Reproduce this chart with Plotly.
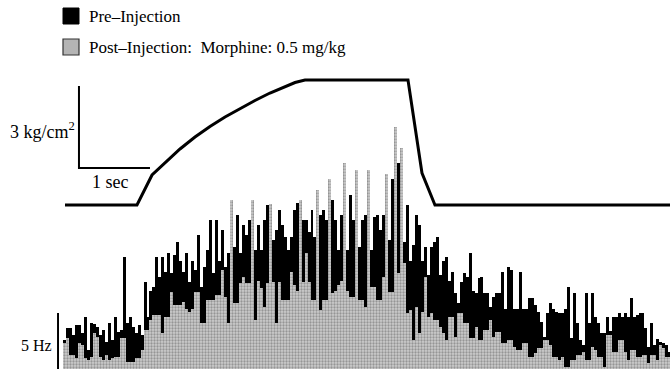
import plotly.graph_objects as go

# ---------------- data ----------------
BIN_S = 0.042  # histogram bin width in seconds

# Pre-injection firing rate per bin (Hz)
pre_hz = [
    2.6, 3.7, 3.7, 3.0, 3.9, 3.9, 3.2, 4.6, 1.7, 4.1,
    4.0, 3.75, 3.0, 3.5, 2.4, 4.1, 2.6, 4.6, 3.3, 3.5,
    10.0, 4.1, 4.6, 3.75, 3.2, 3.9, 3.0, 7.8, 4.6, 7.0,
    7.3, 10.0, 8.2, 10.0, 8.7, 10.4, 8.6, 10.2, 11.3, 9.6,
    8.7, 10.4, 7.8, 9.6, 8.8, 12.0, 7.3, 9.1, 10.6, 13.3,
    8.6, 13.3, 9.6, 12.4, 9.1, 10.4, 12.0, 10.9, 13.75, 10.4,
    12.9, 12.0, 13.3, 13.0, 10.6, 12.9, 10.6, 13.3, 14.6, 12.4,
    11.5, 12.4, 14.2, 12.9, 11.8, 10.6, 11.8, 14.2, 14.8, 12.2,
    13.3, 13.3, 12.2, 14.2, 11.8, 11.8, 13.75, 14.2, 13.3, 13.9,
    15.1, 13.3, 10.6, 13.75, 13.3, 10.6, 15.5, 13.3, 13.75, 10.9,
    13.3, 13.75, 14.2, 10.6, 13.6, 13.75, 12.4, 13.75, 16.2, 11.5,
    17.0, 18.4, 18.4, 17.8, 11.3, 14.6, 9.6, 11.1, 13.75, 12.9,
    9.6, 10.9, 8.4, 10.9, 11.3, 11.8, 8.4, 9.6, 10.0, 7.9,
    8.7, 6.8, 5.9, 7.8, 8.6, 8.2, 10.4, 7.0, 6.8, 8.1,
    8.2, 6.8, 6.8, 5.5, 6.4, 6.8, 6.8, 8.7, 5.4, 9.1,
    8.8, 5.4, 5.4, 8.7, 5.4, 5.4, 6.3, 6.3, 5.7, 5.1,
    4.2, 2.9, 5.0, 5.9, 5.4, 5.1, 5.0, 5.0, 5.4, 7.3,
    2.8, 6.8, 4.1, 2.6, 2.1, 6.8, 4.1, 6.8, 4.6, 4.1,
    3.2, 3.2, 4.6, 3.4, 4.6, 4.6, 5.0, 4.6, 5.0, 4.6,
    6.3, 4.6, 4.8, 5.0, 5.0, 3.7, 2.0, 4.1, 2.1, 2.7,
    2.4, 2.3, 2.1, 1.5,
]

# Post-injection (Morphine 0.5 mg/kg) firing rate per bin (Hz)
post_hz = [
    2.3, 2.8, 1.25, 1.25, 1.0, 2.3, 2.1, 1.0, 0.8, 1.1,
    3.2, 2.9, 1.1, 0.8, 1.25, 0.8, 1.0, 1.1, 1.1, 2.8,
    2.8, 0.6, 0.6, 0.6, 1.0, 1.0, 1.7, 3.5, 3.5, 4.4,
    4.8, 4.8, 4.8, 3.2, 4.6, 4.6, 6.9, 5.7, 5.7, 5.7,
    6.0, 5.4, 5.1, 5.4, 6.9, 6.9, 4.1, 4.1, 6.2, 6.2,
    6.2, 6.6, 6.6, 8.8, 6.4, 4.1, 15.1, 5.9, 5.9, 7.7,
    8.2, 7.7, 7.7, 15.1, 4.4, 7.9, 7.2, 5.5, 7.7, 14.7,
    7.8, 4.1, 7.8, 6.2, 6.2, 6.2, 8.7, 7.5, 7.0, 15.1,
    7.8, 10.4, 7.8, 6.2, 6.2, 16.0, 5.3, 6.2, 6.2, 17.0,
    6.8, 7.0, 7.5, 7.9, 18.4, 7.0, 6.4, 6.4, 17.8, 6.2,
    6.2, 5.5, 17.8, 7.3, 7.3, 6.2, 6.2, 8.2, 17.4, 6.9,
    6.9, 21.6, 8.6, 19.7, 9.5, 5.0, 5.3, 2.6, 5.5, 3.2,
    5.1, 8.2, 4.6, 5.0, 4.4, 4.4, 3.75, 3.2, 2.6, 4.6,
    4.6, 2.9, 5.0, 5.0, 4.1, 4.1, 2.8, 2.8, 3.75, 2.6,
    2.6, 3.5, 3.5, 4.4, 2.9, 3.3, 3.3, 2.3, 2.3, 2.6,
    2.6, 2.0, 1.7, 1.7, 2.3, 2.3, 1.1, 1.1, 1.4, 1.9,
    1.9, 2.6, 2.6, 2.1, 1.1, 1.1, 0.8, 1.1, 0.2, 0.2,
    0.8, 0.8, 1.25, 1.25, 1.5, 0.8, 0.8, 2.0, 1.7, 1.1,
    1.1, 0.2, 3.0, 3.0, 1.5, 1.5, 2.6, 2.6, 1.5, 0.8,
    1.7, 1.7, 1.1, 1.1, 1.25, 1.25, 0.5, 1.25, 1.25, 0.8,
    2.1, 1.9, 1.1, 1.1,
]

# Applied pressure stimulus (kg/cm^2) vs time (s)
pressure_t = [0.028, 1.042, 1.254, 1.437, 1.648, 1.859, 2.070, 2.282,
              2.493, 2.704, 2.915, 3.127, 3.268, 3.408, 4.859, 5.056,
              5.239, 8.55]
pressure_kg = [0.0, 0.0, 1.098, 1.555, 2.049, 2.488, 2.873, 3.220,
               3.531, 3.824, 4.098, 4.336, 4.482, 4.574, 4.574, 1.17,
               0.0, 0.0]

legend_labels = ["Pre\u2013Injection", "Post\u2013Injection:\u00a0 Morphine: 0.5 mg/kg"]

# ---------------- figure ----------------
W, H = 670, 370
bin_t = [BIN_S * (i + 0.5) for i in range(len(pre_hz))]

GRAY_BG = "#cccccc"
GRAY_FG = "#5e5e5e"
FONT = "Liberation Serif"

fig = go.Figure()
fig.add_trace(go.Bar(
    x=bin_t, y=pre_hz, width=BIN_S, name=legend_labels[0],
    marker=dict(color="black", line=dict(width=0)),
))
fig.add_trace(go.Bar(
    x=bin_t, y=post_hz, width=BIN_S, name=legend_labels[1],
    marker=dict(color=GRAY_BG, line=dict(width=0),
                pattern=dict(shape=".", fgcolor=GRAY_FG, bgcolor=GRAY_BG,
                             size=3, solidity=0.45)),
))
fig.add_trace(go.Scatter(
    x=pressure_t, y=pressure_kg, yaxis="y2", mode="lines",
    line=dict(color="black", width=3), hoverinfo="skip",
))

# scale bars
KG_T0, KG_P0 = 0.225, 1.354
fig.add_trace(go.Scatter(
    x=[KG_T0, KG_T0, KG_T0 + 1.0], y=[KG_P0 + 3.0, KG_P0, KG_P0], yaxis="y2",
    mode="lines", line=dict(color="black", width=2), hoverinfo="skip",
))
HZ_T0 = -0.07
fig.add_trace(go.Scatter(
    x=[HZ_T0, HZ_T0], y=[0, 5], mode="lines",
    line=dict(color="black", width=2), hoverinfo="skip",
))

def px(x):
    return x / W

def py(y):
    return 1 - y / H

shapes = [
    dict(type="rect", xref="paper", yref="paper",
         x0=px(63), x1=px(79), y0=py(24), y1=py(8),
         fillcolor="black", line=dict(color="black", width=1)),
    dict(type="rect", xref="paper", yref="paper",
         x0=px(63), x1=px(79), y0=py(55), y1=py(39),
         fillcolor="#b4b4b4", line=dict(color="#333333", width=1.2)),
]

annotations = [
    dict(text=legend_labels[0], x=px(87), y=py(16), xref="paper", yref="paper",
         xanchor="left", yanchor="middle", showarrow=False,
         font=dict(family=FONT, size=17, color="black")),
    dict(text=legend_labels[1], x=px(87), y=py(47), xref="paper", yref="paper",
         xanchor="left", yanchor="middle", showarrow=False,
         font=dict(family=FONT, size=17, color="black")),
    dict(text="3 kg/cm<sup>2</sup>", x=px(77), y=py(130), xref="paper", yref="paper",
         xanchor="right", yanchor="middle", showarrow=False,
         font=dict(family=FONT, size=18, color="black")),
    dict(text="1 sec", x=px(110), y=py(182), xref="paper", yref="paper",
         xanchor="center", yanchor="middle", showarrow=False,
         font=dict(family=FONT, size=18, color="black")),
    dict(text="5 Hz", x=px(54), y=py(345), xref="paper", yref="paper",
         xanchor="right", yanchor="middle", showarrow=False,
         font=dict(family=FONT, size=16, color="black")),
]

fig.update_layout(
    width=W, height=H, margin=dict(l=0, r=0, t=0, b=0),
    paper_bgcolor="white", plot_bgcolor="white",
    barmode="overlay", bargap=0, showlegend=False,
    xaxis=dict(visible=False, range=[-63 / 71, 607 / 71], fixedrange=True),
    yaxis=dict(visible=False, range=[-1 / 11.2, 369 / 11.2], fixedrange=True),
    yaxis2=dict(visible=False, overlaying="y", range=[-165 / 27.33, 205 / 27.33],
                fixedrange=True),
    shapes=shapes, annotations=annotations,
)

fig.write_html(
    "out.html",
    config={"displayModeBar": False},
    post_script="document.body.style.margin='0px';document.body.style.overflow='hidden';",
)
